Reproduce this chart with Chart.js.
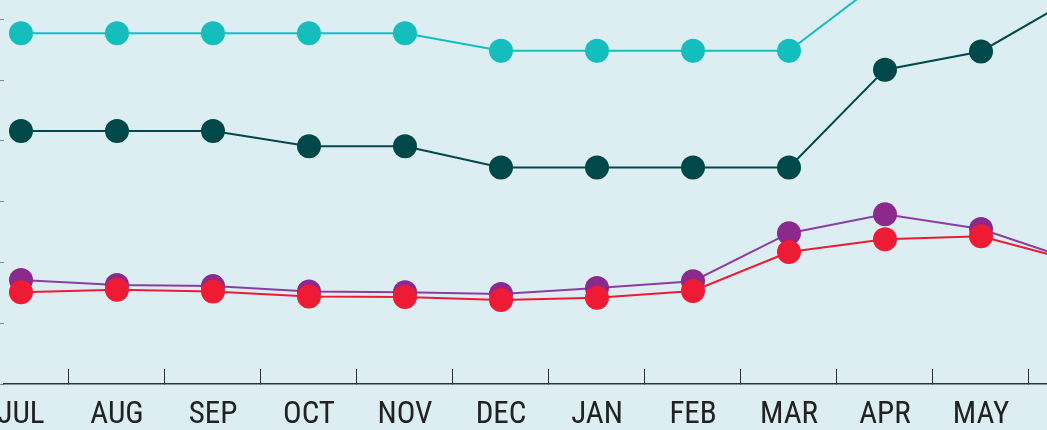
<!DOCTYPE html>
<html>
<head>
<meta charset="utf-8">
<script src="https://cdn.jsdelivr.net/npm/chart.js@4.4.1/dist/chart.umd.min.js"></script>
<style>
html,body{margin:0;padding:0;width:1047px;height:430px;overflow:hidden;background:#dceef2;}
#c{position:absolute;left:0;top:0;}
</style>
</head>
<body>
<canvas id="c" width="1125" height="430"></canvas>
<script>
const months = ['JUL','AUG','SEP','OCT','NOV','DEC','JAN','FEB','MAR','APR','MAY','JUN'];
const tealValues   = [57.7, 57.7, 57.7, 57.7, 57.7, 54.8, 54.8, 54.8, 54.8, 66.8, 68.0, 69.0];
const darkValues   = [41.6, 41.6, 41.6, 39.1, 39.1, 35.6, 35.6, 35.6, 35.6, 51.7, 54.7, 63.8];
const purpleValues = [17.1, 16.3, 16.1, 15.2, 15.1, 14.8, 15.8, 16.9, 24.8, 27.9, 25.5, 20.2];
const redValues    = [15.1, 15.5, 15.2, 14.4, 14.3, 13.8, 14.2, 15.3, 21.7, 23.8, 24.3, 20.1];
const yTicks = [0, 10, 20, 30, 40, 50, 60];

const pts = v => v.map((y, i) => ({x: i, y}));
const ds = (vals, color, lineColor) => ({
  data: pts(vals),
  borderColor: lineColor || color,
  backgroundColor: color,
  pointBackgroundColor: color,
  pointBorderWidth: 0,
  pointRadius: 12,
  pointHoverRadius: 12,
  borderWidth: 2,
  tension: 0,
  fill: false
});

new Chart(document.getElementById('c'), {
  type: 'line',
  data: {
    datasets: [
      ds(redValues, '#ee1b34'),
      ds(purpleValues, '#8c298c', '#8a3ea4'),
      ds(darkValues, '#004849'),
      ds(tealValues, '#14bebd')
    ]
  },
  options: {
    responsive: false,
    animation: false,
    events: [],
    layout: {padding: 0, autoPadding: false},
    plugins: {legend: {display: false}, tooltip: {enabled: false}},
    scales: {
      x: {
        type: 'linear',
        min: -0.177,
        max: 11.5,
        afterBuildTicks: s => { s.ticks = months.map((m, i) => ({value: i})); },
        afterFit: s => { s.height = 46; s.paddingLeft = 0; s.paddingRight = 0; },
        grid: {offset: true, drawOnChartArea: false, drawTicks: true, tickLength: -15, color: '#333', lineWidth: 1},
        border: {display: true, color: '#333', width: 1.5},
        ticks: {
          callback: v => months[v],
          color: '#222',
          padding: 28,
          maxRotation: 0,
          autoSkip: false,
          font: {family: 'Roboto', size: 31, weight: 'condensed'}
        }
      },
      y: {
        min: 0,
        max: 63.16,
        afterBuildTicks: s => { s.ticks = yTicks.map(v => ({value: v})); },
        afterFit: s => { s.width = 4; },
        grid: {drawOnChartArea: false, drawTicks: true, tickLength: 4, color: '#888'},
        border: {display: false},
        ticks: {display: false}
      }
    }
  }
});
</script>
</body>
</html>
